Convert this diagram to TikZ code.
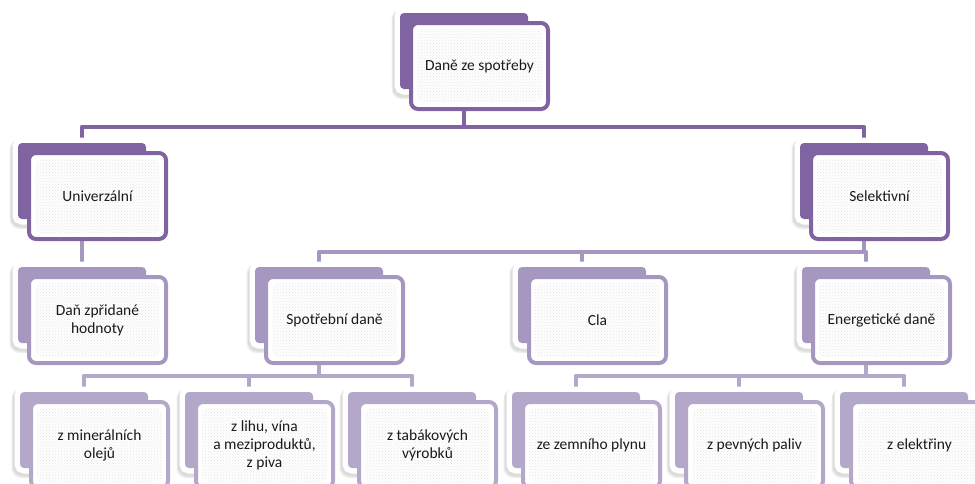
\documentclass[tikz,border=0pt]{standalone}
\usepackage{fontspec}
\setmainfont{Carlito}
\usetikzlibrary{patterns}
\pgfdeclarelayer{bg}
\pgfsetlayers{bg,main}

\definecolor{purpA}{HTML}{8064A2}
\definecolor{purpB}{HTML}{A597BF}
\definecolor{purpC}{HTML}{B3A8CA}
\definecolor{txt}{HTML}{1A1A1A}

\tikzset{
  backbox/.style={preaction={draw=white, line width=11pt}, rounded corners=4pt,
    minimum width=128pt, minimum height=76pt, inner sep=0pt, outer sep=0pt,
    anchor=north west, fill=#1},
  frontbox/.style={draw=#1, fill=white, line width=4pt, rounded corners=7pt,
    minimum width=137pt, minimum height=86pt, inner sep=2pt, outer sep=0pt,
    anchor=north west, align=center, text=txt,
    font=\fontsize{15.5}{18}\selectfont,
    path picture={\fill[pattern=crosshatch dots, pattern color=black!11]
      ([shift={(6pt,-6pt)}]path picture bounding box.north west) rectangle
      ([shift={(-6pt,6pt)}]path picture bounding box.south east);}},
  conn/.style={draw=#1, line width=4.5pt, line join=round, line cap=butt},
  halo shadow/.style={fill=black, opacity=0.07, rounded corners=10pt}
}

% one item = filled back card with white rim + white front card holding the text
\newcommand{\card}[5]{% name, x, y, colour, text
  \node[backbox=#4] (#1b) at (#2,#3) {};
  \node[frontbox=#4] (#1) at ([shift={(11,10)}]#1b.north west) {#5};
}

\begin{document}
\begin{tikzpicture}[x=1pt,y=-1pt]
\useasboundingbox (0,0) rectangle (975,483);

% level 0
\card{top}{400}{13}{purpA}{Daně ze spotřeby}
% level 1
\card{univ}{18}{143}{purpA}{Univerzální}
\card{sel}{800}{143}{purpA}{Selektivní}
% level 2
\card{dph}{18}{267}{purpB}{Daň zpřidané\\hodnoty}
\card{spot}{255}{267}{purpB}{Spotřební daně}
\card{cla}{518}{267}{purpB}{Cla}
\card{ener}{802}{267}{purpB}{Energetické daně}
% level 3
\card{min}{20}{392}{purpC}{z minerálních\\olejů}
\card{lih}{185}{392}{purpC}{z lihu, vína\\a meziproduktů,\\z piva}
\card{tab}{348}{392}{purpC}{z tabákových\\výrobků}
\card{zem}{512}{392}{purpC}{ze zemního plynu}
\card{pev}{675}{392}{purpC}{z pevných paliv}
\card{ele}{840}{392}{purpC}{z elektřiny}

% junction heights of the connector buses
\coordinate (busA) at (0,127);
\coordinate (busB) at (0,252);
\coordinate (busC) at (0,376);

\begin{pgfonlayer}{bg}
  % soft shadows under the white rims
  \foreach \n in {topb,univb,selb,dphb,spotb,clab,enerb,minb,lihb,tabb,zemb,pevb,eleb}{
    \fill[halo shadow] ([shift={(-8.5pt,3.5pt)}]\n.north west) rectangle ([shift={(4.5pt,-10pt)}]\n.south east);
    \fill[halo shadow] ([shift={(-7.5pt,2.5pt)}]\n.north west) rectangle ([shift={(3.5pt,-8.5pt)}]\n.south east);
  }
  % level 0 -> 1
  \draw[conn=purpA] (topb.center) -- (topb.center |- busA);
  \draw[conn=purpA] (univb.north) -- (univb.north |- busA) -- (selb.north |- busA) -- (selb.north);
  % level 1 -> 2
  \draw[conn=purpB] (univb.center) -- (dphb.north);
  \draw[conn=purpB] (selb.center) -- (selb.center |- busB);
  \draw[conn=purpB] (spotb.north) -- (spotb.north |- busB) -- (enerb.north |- busB) -- (enerb.north);
  \draw[conn=purpB] (clab.north) -- (clab.north |- busB);
  % level 2 -> 3
  \draw[conn=purpC] (spotb.center) -- (spotb.center |- busC);
  \draw[conn=purpC] (minb.north) -- (minb.north |- busC) -- (tabb.north |- busC) -- (tabb.north);
  \draw[conn=purpC] (lihb.north) -- (lihb.north |- busC);
  \draw[conn=purpC] (enerb.center) -- (enerb.center |- busC);
  \draw[conn=purpC] (zemb.north) -- (zemb.north |- busC) -- (eleb.north |- busC) -- (eleb.north);
  \draw[conn=purpC] (pevb.north) -- (pevb.north |- busC);
\end{pgfonlayer}
\end{tikzpicture}
\end{document}
